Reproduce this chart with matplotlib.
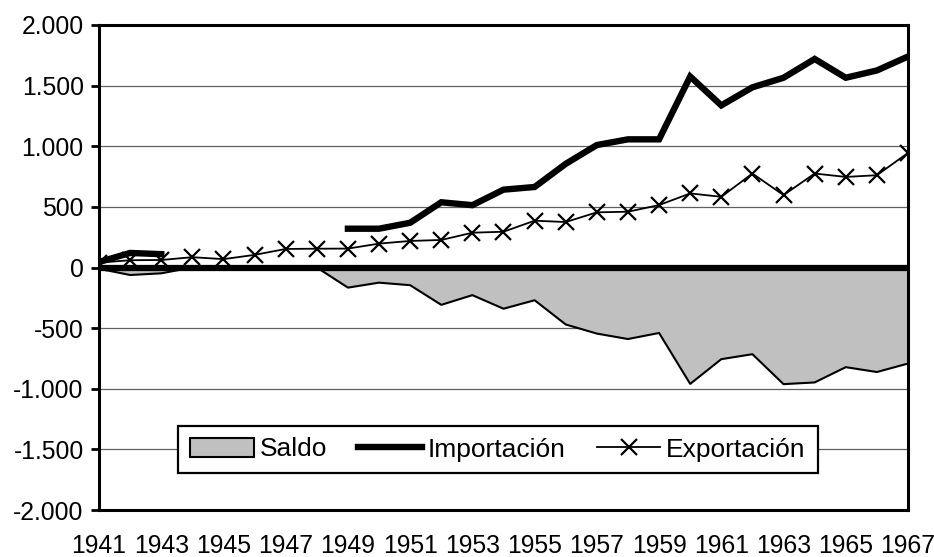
import numpy as np
import matplotlib
matplotlib.use("Agg")
import matplotlib.pyplot as plt
import matplotlib.patches as mpatches
from matplotlib.ticker import FuncFormatter

plt.rcParams['font.family'] = ['Liberation Sans', 'DejaVu Sans']
plt.rcParams['axes.unicode_minus'] = False

# ---------------- data ----------------
years = list(range(1941, 1968))

importacion = [45, 120, 110, np.nan, np.nan, np.nan, np.nan, np.nan,
               320, 320, 369, 538, 514, 642, 664, 855, 1010,
               1057, 1057, 1575, 1337, 1486, 1565, 1720, 1565, 1625, 1740]

exportacion = [40, 60, 62, 85, 69, 104, 153, 155,
               156, 197, 219, 227, 287, 295, 386, 375, 455,
               460, 515, 611, 583, 775, 597, 775, 747, 761, 945]

saldo = [-10, -62, -48, 0, 0, 0, 0, 0,
         -166, -125, -146, -308, -228, -340, -270, -470, -545,
         -590, -540, -960, -756, -715, -962, -948, -822, -862, -792]

x_labels = [str(y) for y in range(1941, 1968, 2)]

# ---------------- figure ----------------
fig = plt.figure(figsize=(9.34, 5.57), dpi=100)
ax = fig.add_axes([99 / 934, 1 - 510 / 557, (908 - 99) / 934, (510 - 25) / 557])

ax.fill_between(years, saldo, 0, facecolor='#c0c0c0', edgecolor='none', zorder=1)
ax.plot(years, saldo, color='black', lw=1.5, zorder=2)
ax.axhline(0, color='black', lw=4.5, zorder=3)
ax.plot(years, importacion, color='black', lw=4.6, solid_joinstyle='miter',
        zorder=4, label='Importación')
ax.plot(years, exportacion, color='black', lw=1.3, marker='x', markersize=12,
        markeredgewidth=1.6, zorder=5, label='Exportación')

ax.set_xlim(1941, 1967)
ax.set_ylim(-2000, 2000)
ax.set_yticks(range(-2000, 2001, 500))
ax.yaxis.set_major_formatter(FuncFormatter(lambda v, p: f"{v:,.0f}".replace(",", ".")))
ax.set_xticks(range(1941, 1968, 2))
ax.set_xticklabels(x_labels)

ax.tick_params(axis='y', direction='out', length=6, width=2, labelsize=17.8, pad=5)
ax.tick_params(axis='x', length=0, labelsize=17.8, pad=17.5)

for v in range(-1500, 2000, 500):
    if v != 0:
        ax.axhline(v, color='#606060', lw=0.9, zorder=0)

for s in ax.spines.values():
    s.set_linewidth(2.2)
    s.set_color('black')

# legend
h, l = ax.get_legend_handles_labels()
h = [mpatches.Patch(facecolor='#c0c0c0', edgecolor='black', lw=1.5)] + h
l = ['Saldo'] + l
leg = ax.legend(h, l, loc='center', ncol=3, fontsize=19,
                bbox_to_anchor=(498 / 934, 1 - 449.5 / 557), bbox_transform=fig.transFigure,
                frameon=True, fancybox=False, framealpha=1, edgecolor='black',
                handlelength=2.4, handletextpad=0.22, columnspacing=1.2,
                borderpad=0.45, borderaxespad=0)
leg.get_frame().set_linewidth(1.6)
leg.set_zorder(10)

fig.savefig('out.png', dpi=100)
